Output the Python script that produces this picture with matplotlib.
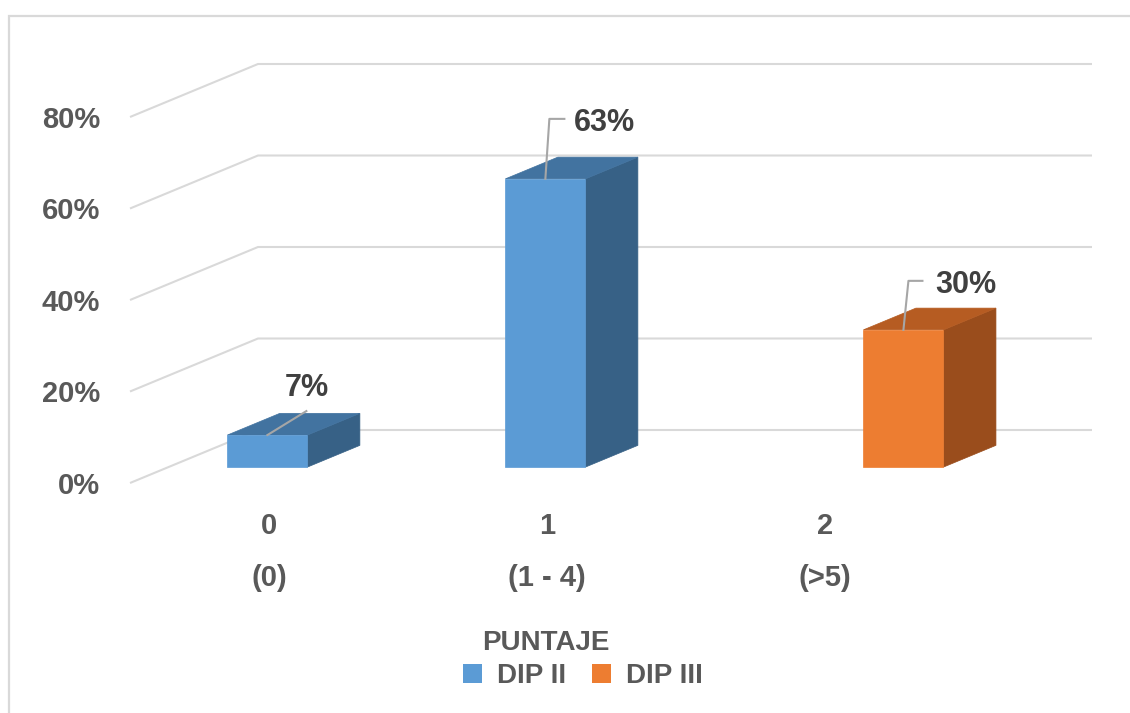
import matplotlib.pyplot as plt
from matplotlib.patches import Polygon, Patch, Rectangle
from matplotlib.transforms import IdentityTransform

# data (percent)
categories = ['0', '1', '2']
cat_ranges = ['(0)', '(1 - 4)', '(>5)']
series_names = ['DIP II', 'DIP III']
dip_ii = [7, 63, 0]
dip_iii = [0, 0, 30]
y_ticks = [0, 20, 40, 60, 80]
axis_title = 'PUNTAJE'

plt.rcParams['font.family'] = ['Liberation Sans', 'DejaVu Sans']

W, H = 1130, 713
fig = plt.figure(figsize=(W / 100, H / 100), dpi=100)
fig.patch.set_facecolor('white')

# front plane of the 3d box (pixels): x 130..964, y 117..483
ax = fig.add_axes([130 / W, 1 - 483 / H, 834 / W, 366 / H])
ax.set_xlim(-0.5, 2.5)
ax.set_ylim(0, 80)
for s in ax.spines.values():
    s.set_visible(False)
ax.set_xticks([])
ax.set_facecolor('none')

# depth projection: z=0 front wall, z=1 back wall
KX = 128 / 278.0       # category units per unit of depth
KY = 53 / 4.575        # percent units per unit of depth


def P(x, v, z):
    return (x + z * KX, v + z * KY)


GRID = '#D9D9D9'
TXT = '#595959'

# side wall + back wall gridlines
for v in y_ticks:
    pts = [P(-0.5, v, 0), P(-0.5, v, 1), P(2.5, v, 1)]
    ax.plot([p[0] for p in pts], [p[1] for p in pts], color=GRID, lw=1.5,
            clip_on=False, zorder=1, solid_capstyle='butt')

ax.set_yticks(y_ticks)
ax.set_yticklabels(['%d%%' % t for t in y_ticks])
ax.tick_params(axis='y', length=0, pad=21.5, labelsize=21, labelcolor=TXT)
for lab in ax.get_yticklabels():
    lab.set_fontweight('bold')

# bar colours: front, top, side
colors = [('#5B9BD5', '#4273A0', '#376186'),
          ('#ED7D31', '#B65C22', '#9A4D1C')]
BW = 0.288
ZF, ZB = 0.30, 0.71

# leader line points and label position (pixel offsets from bar top-front centre)
leaders = [[(39, 24)], [(4, 60), (19, 60)], [(5, 49), (19, 49)]]
label_pos = [(39, 39, 'center'), (29, 48, 'left'), (32, 37, 'left')]

k = 0
for si, vals in enumerate([dip_ii, dip_iii]):
    off = (si - 0.5) * BW
    cf, ct, cs = colors[si]
    for i, v in enumerate(vals):
        if v == 0:
            continue
        x0 = i + off - BW / 2
        x1 = x0 + BW
        front = [P(x0, 0, ZF), P(x1, 0, ZF), P(x1, v, ZF), P(x0, v, ZF)]
        top = [P(x0, v, ZF), P(x1, v, ZF), P(x1, v, ZB), P(x0, v, ZB)]
        side = [P(x1, 0, ZF), P(x1, 0, ZB), P(x1, v, ZB), P(x1, v, ZF)]
        for poly, c in [(side, cs), (top, ct), (front, cf)]:
            ax.add_patch(Polygon(poly, closed=True, facecolor=c, edgecolor=c,
                                 lw=0.5, clip_on=False, zorder=3))

        # data label with leader line
        ax0, ay0 = ax.transData.transform(P(i + off, v, ZF))
        xs = [ax0] + [ax0 + d[0] for d in leaders[k]]
        ys = [ay0] + [ay0 + d[1] for d in leaders[k]]
        ax.plot(xs, ys, color='#A6A6A6', lw=1.5, transform=IdentityTransform(),
                clip_on=False, zorder=4)
        dx, dy, ha = label_pos[k]
        ax.text(ax0 + dx, ay0 + dy, '%d%%' % v, transform=IdentityTransform(),
                ha=ha, va='baseline', fontsize=22, fontweight='bold',
                color='#404040', zorder=5)
        k += 1

# category labels (two lines)
for i, (c, r) in enumerate(zip(categories, cat_ranges)):
    ax.text(i, (483 - 534) / 4.575, c, ha='center', va='baseline', fontsize=21,
            fontweight='bold', color=TXT, clip_on=False)
    ax.text(i, (483 - 586) / 4.575, r, ha='center', va='baseline', fontsize=21,
            fontweight='bold', color=TXT, clip_on=False)

# axis title
fig.text(546 / W, 1 - 650 / H, axis_title, ha='center', va='baseline',
         fontsize=20, fontweight='bold', color=TXT)

# legend
handles = [Patch(facecolor=colors[0][0]), Patch(facecolor=colors[1][0])]
fig.legend(handles, series_names, loc='center', bbox_to_anchor=(583 / W, 1 - 676 / H),
           ncol=2, frameon=False, prop={'weight': 'bold', 'size': 20},
           labelcolor=TXT, handlelength=0.68, handleheight=0.68,
           handletextpad=0.54, columnspacing=0.93, borderpad=0, borderaxespad=0)

# chart border (only top and left edges are inside the picture)
fig.add_artist(Rectangle((9 / W, -0.5), 2, 1.5 - 16 / H, transform=fig.transFigure,
                         fill=False, edgecolor=GRID, lw=1.6))

fig.savefig('out.png', dpi=100)
